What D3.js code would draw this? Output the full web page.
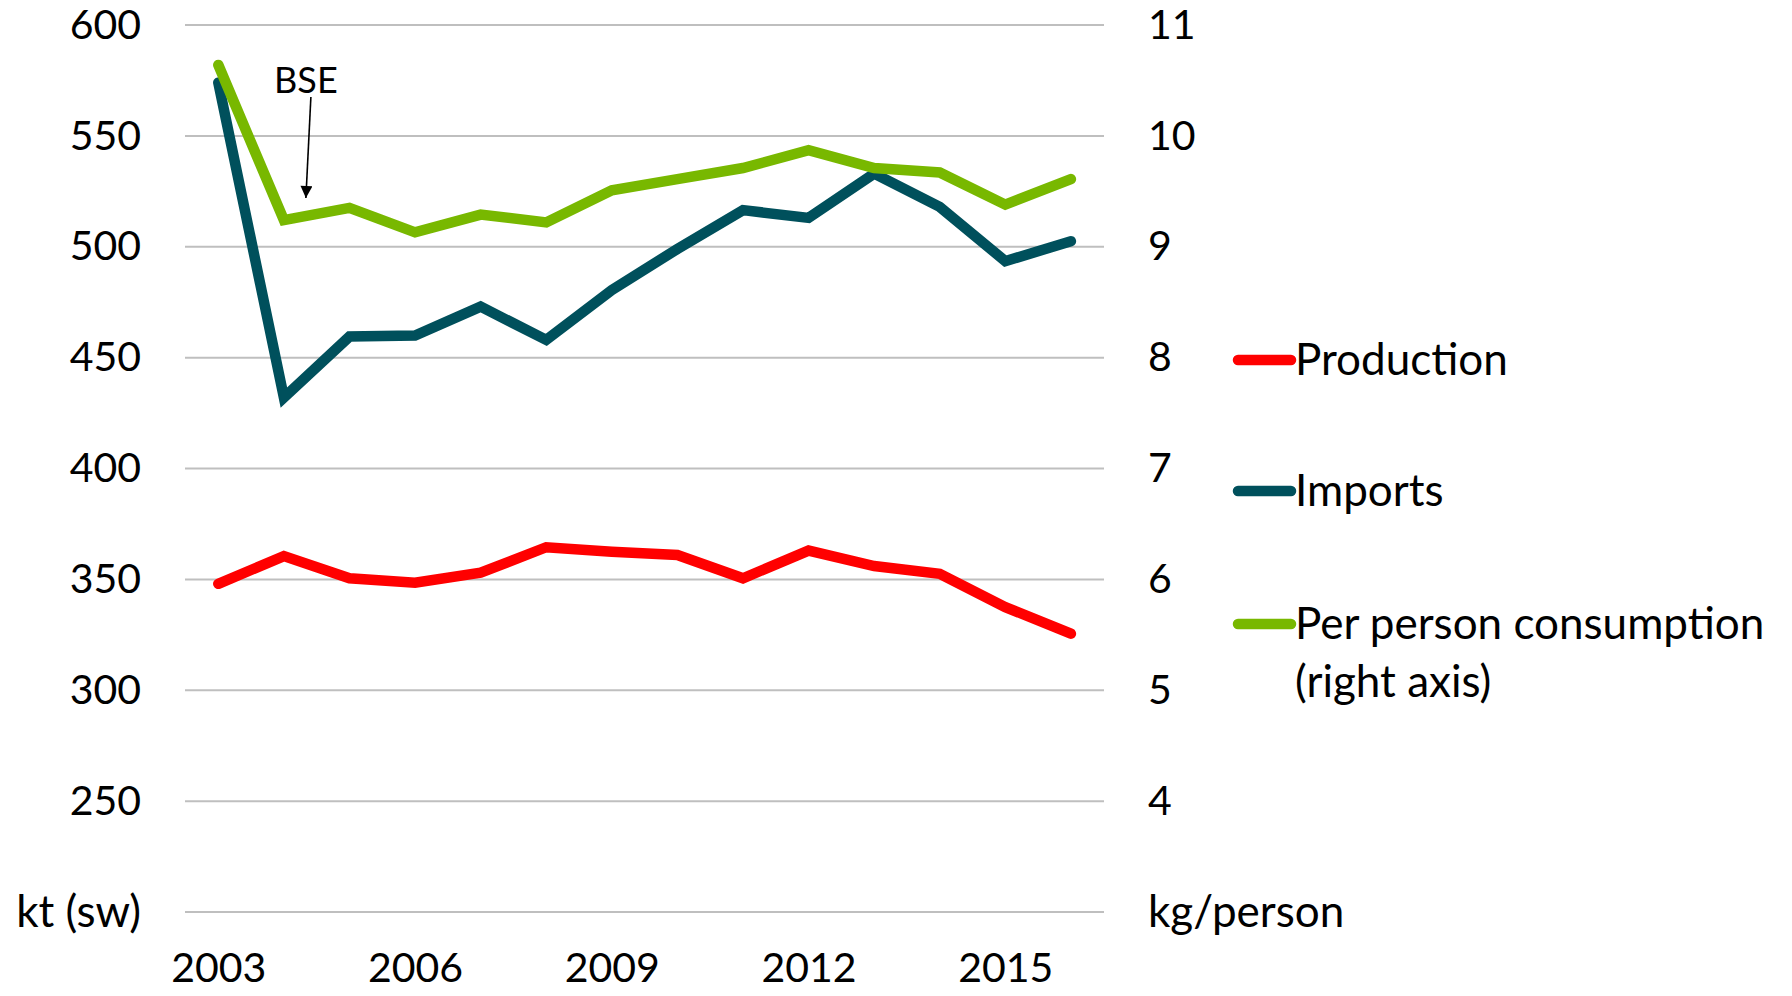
<!DOCTYPE html>
<html>
<head>
<meta charset="utf-8">
<script src="https://cdnjs.cloudflare.com/ajax/libs/d3/7.8.5/d3.min.js"></script>
<style>
  html, body { margin: 0; padding: 0; background: #ffffff; }
  svg { display: block; font-family: Lato, "Open Sans", sans-serif; }
</style>
</head>
<body>
<svg id="chart" width="1792" height="996"></svg>
<script>
const years = [2003, 2004, 2005, 2006, 2007, 2008, 2009, 2010, 2011, 2012, 2013, 2014, 2015, 2016];
const production = [348, 360.5, 350.5, 348.5, 353, 364.5, 362.5, 361, 350.5, 363, 356, 352.5, 337.5, 325.5];
const imports = [574, 432, 459.5, 460, 473, 458, 480.5, 499, 516.5, 513, 533, 518, 493.5, 502.5];
const perPerson = [10.64, 9.24, 9.35, 9.13, 9.29, 9.22, 9.51, 9.61, 9.71, 9.87, 9.71, 9.67, 9.38, 9.61];
const leftTicks = [200, 250, 300, 350, 400, 450, 500, 550, 600];
const leftTickLabels = ["kt (sw)", "250", "300", "350", "400", "450", "500", "550", "600"];
const rightTicks = [3, 4, 5, 6, 7, 8, 9, 10, 11];
const rightTickLabels = ["kg/person", "4", "5", "6", "7", "8", "9", "10", "11"];
const xTickYears = [2003, 2006, 2009, 2012, 2015];
const seriesNames = ["Production", "Imports", "Per person consumption"];
const seriesNote = "(right axis)";
const colors = ["#FF0000", "#00505C", "#78B800"];
const annotationText = "BSE";
const annotationYear = 2004;

const svg = d3.select("#chart");
const plotLeft = 185, plotRight = 1104, plotTop = 25, plotBottom = 912;
const numSize = 41, textSize = 44;
const isNum = s => /^[0-9]+$/.test(String(s));

const x = d3.scalePoint().domain(years).range([218.3, 1070.9]);
const yL = d3.scaleLinear().domain([200, 600]).range([plotBottom, plotTop]);
const yR = d3.scaleLinear().domain([3, 11]).range([plotBottom, plotTop]);

// gridlines
svg.append("g").selectAll("line").data(leftTicks).join("line")
  .attr("x1", plotLeft).attr("x2", plotRight)
  .attr("y1", d => yL(d)).attr("y2", d => yL(d))
  .attr("stroke", "#BFBFBF").attr("stroke-width", 2);

// left axis
const leftAxis = d3.axisLeft(yL).tickValues(leftTicks)
  .tickFormat((d, i) => leftTickLabels[i]).tickSize(0).tickPadding(0);
const gL = svg.append("g").attr("transform", "translate(141,0)").call(leftAxis);
gL.select(".domain").remove();
gL.selectAll("text").attr("font-size", function() { return isNum(this.textContent) ? numSize : textSize; })
  .attr("fill", "#000").attr("font-family", "Lato, sans-serif");

// right axis
const rightAxis = d3.axisRight(yR).tickValues(rightTicks)
  .tickFormat((d, i) => rightTickLabels[i]).tickSize(0).tickPadding(0);
const gR = svg.append("g").attr("transform", "translate(1148,0)").call(rightAxis);
gR.select(".domain").remove();
gR.selectAll("text").attr("font-size", function() { return isNum(this.textContent) ? numSize : textSize; })
  .attr("fill", "#000").attr("font-family", "Lato, sans-serif");

// bottom axis
const bottomAxis = d3.axisBottom(x).tickValues(xTickYears).tickSize(0).tickPadding(0);
const gB = svg.append("g").attr("transform", "translate(0,968)").call(bottomAxis);
gB.select(".domain").remove();
gB.selectAll("text").attr("font-size", numSize).attr("fill", "#000").attr("font-family", "Lato, sans-serif")
  .attr("dy", "0.35em");

// lines
const lineL = d3.line().x((d, i) => x(years[i])).y(d => yL(d));
const lineR = d3.line().x((d, i) => x(years[i])).y(d => yR(d));
const drawn = [
  { data: production, gen: lineL, color: colors[0] },
  { data: imports, gen: lineL, color: colors[1] },
  { data: perPerson, gen: lineR, color: colors[2] }
];
svg.append("g").selectAll("path").data(drawn).join("path")
  .attr("d", d => d.gen(d.data))
  .attr("fill", "none")
  .attr("stroke", d => d.color)
  .attr("stroke-width", 10.5)
  .attr("stroke-linecap", "round")
  .attr("stroke-linejoin", "miter");

// annotation
const defs = svg.append("defs");
defs.append("marker").attr("id", "arrow").attr("viewBox", "0 0 10 10")
  .attr("refX", 10).attr("refY", 5).attr("markerWidth", 14).attr("markerHeight", 12)
  .attr("markerUnits", "userSpaceOnUse")
  .attr("orient", "auto")
  .append("path").attr("d", "M0,0 L10,5 L0,10 Z").attr("fill", "#000");
const ax = x(annotationYear);
svg.append("text").attr("x", ax + 22).attr("y", 80).attr("dy", "0.35em")
  .attr("text-anchor", "middle").attr("font-size", 36).attr("fill", "#000")
  .attr("font-family", "Lato, sans-serif").text(annotationText);
svg.append("line")
  .attr("x1", ax + 27).attr("y1", 97)
  .attr("x2", ax + 22).attr("y2", 198)
  .attr("stroke", "#000").attr("stroke-width", 1.6)
  .attr("marker-end", "url(#arrow)");

// legend
const legendY = [360, 491, 624];
const lg = svg.append("g").selectAll("g").data(seriesNames).join("g")
  .attr("transform", (d, i) => `translate(1238,${legendY[i]})`);
lg.append("line").attr("x1", 0).attr("x2", 53).attr("y1", 0).attr("y2", 0)
  .attr("stroke", (d, i) => colors[i]).attr("stroke-width", 10.5).attr("stroke-linecap", "round");
lg.append("text").attr("x", 57).attr("y", 0).attr("dy", "0.35em")
  .attr("font-size", textSize).attr("fill", "#000").attr("font-family", "Lato, sans-serif")
  .text(d => d);
svg.append("text").attr("x", 1295).attr("y", 682).attr("dy", "0.35em")
  .attr("font-size", textSize).attr("fill", "#000").attr("font-family", "Lato, sans-serif")
  .text(seriesNote);
</script>
</body>
</html>
